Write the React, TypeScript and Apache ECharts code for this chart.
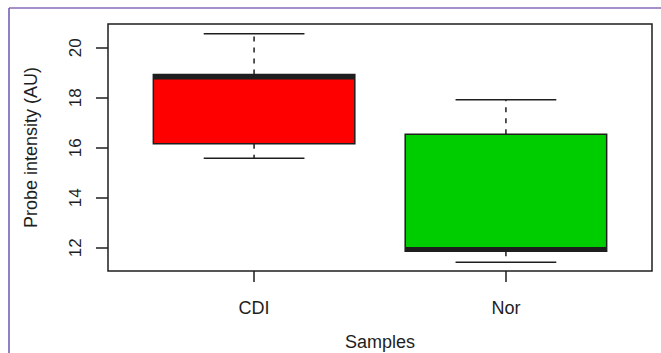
import React, { useEffect, useRef } from "react";
import * as echarts from "echarts";

const categories = ["CDI", "Nor"];
const positions = [1, 2];
const lowerWhisker = [15.58, 11.42];
const q1 = [16.16, 11.86];
const median = [18.82, 11.94];
const q3 = [18.93, 16.54];
const upperWhisker = [20.56, 17.92];
const boxColors = ["#FF0000", "#00CD00"];
const yTicks = [12, 14, 16, 18, 20];

export default function App() {
  const ref = useRef<HTMLDivElement>(null);
  useEffect(() => {
    if (!ref.current) return;
    const chart = echarts.init(ref.current, null, { renderer: "svg" });
    const data = positions.map((p, i) => [p, lowerWhisker[i], q1[i], median[i], q3[i], upperWhisker[i], i]);
    const ink = "#1e1e1e";
    const font = "Liberation Sans";
    chart.setOption({
      animation: false,
      backgroundColor: "#ffffff",
      grid: {
        left: 108,
        top: 24,
        right: 9,
        bottom: 82,
        containLabel: false,
        outerBoundsMode: "none",
        show: true,
        borderColor: ink,
        borderWidth: 1.5,
        backgroundColor: "transparent",
      },
      xAxis: {
        type: "value",
        min: 0.42,
        max: 2.58,
        splitLine: { show: false },
        axisLine: { show: false },
        axisTick: { show: true, customValues: positions, length: 11, inside: false, lineStyle: { color: ink, width: 1.5 } },
        axisLabel: {
          customValues: positions,
          formatter: (v: number) => categories[Math.round(v) - 1] ?? "",
          margin: 28,
          fontFamily: font,
          fontSize: 18,
          color: ink,
        },
        name: "Samples",
        nameLocation: "middle",
        nameGap: 62,
        nameTextStyle: { fontFamily: font, fontSize: 18, color: ink },
      },
      yAxis: {
        type: "value",
        min: 11.07,
        max: 20.95,
        splitLine: { show: false },
        axisLine: { show: false },
        axisTick: { show: true, customValues: yTicks, length: 12, inside: false, lineStyle: { color: ink, width: 1.5 } },
        axisLabel: {
          customValues: yTicks,
          rotate: 90,
          margin: 24,
          fontFamily: font,
          fontSize: 17,
          color: ink,
        },
        name: "Probe intensity (AU)",
        nameLocation: "middle",
        nameGap: 68,
        nameTextStyle: { fontFamily: font, fontSize: 18, color: ink },
      },
      graphic: [
        { type: "line", shape: { x1: 9, y1: 8, x2: 661, y2: 8 }, style: { stroke: "#a690cc", lineWidth: 2 }, z: 100 },
        { type: "line", shape: { x1: 9, y1: 8, x2: 9, y2: 353 }, style: { stroke: "#6d55b3", lineWidth: 1.5 }, z: 100 },
      ],
      series: [
        {
          type: "custom",
          data,
          clip: false,
          renderItem: (params: any, api: any) => {
            const x = api.value(0);
            const lw = api.value(1);
            const a = api.value(2);
            const m = api.value(3);
            const b = api.value(4);
            const hw = api.value(5);
            const idx = api.value(6);
            const half = api.size([0.8, 0])[0] / 2;
            const capHalf = half / 2;
            const pLw = api.coord([x, lw]);
            const pA = api.coord([x, a]);
            const pM = api.coord([x, m]);
            const pB = api.coord([x, b]);
            const pHw = api.coord([x, hw]);
            const cx = pA[0];
            const lineStyle = { stroke: ink, lineWidth: 1.5 };
            const dashStyle = { stroke: ink, lineWidth: 1.5, lineDash: [5, 6] };
            return {
              type: "group",
              children: [
                { type: "line", shape: { x1: cx, y1: pB[1], x2: cx, y2: pHw[1] }, style: dashStyle },
                { type: "line", shape: { x1: cx, y1: pA[1], x2: cx, y2: pLw[1] }, style: dashStyle },
                { type: "line", shape: { x1: cx - capHalf, y1: pHw[1], x2: cx + capHalf, y2: pHw[1] }, style: lineStyle },
                { type: "line", shape: { x1: cx - capHalf, y1: pLw[1], x2: cx + capHalf, y2: pLw[1] }, style: lineStyle },
                {
                  type: "rect",
                  shape: { x: cx - half, y: pB[1], width: half * 2, height: pA[1] - pB[1] },
                  style: { fill: boxColors[idx], stroke: ink, lineWidth: 1.5 },
                },
                { type: "line", shape: { x1: cx - half, y1: pM[1], x2: cx + half, y2: pM[1] }, style: { stroke: ink, lineWidth: 4.5 } },
              ],
            };
          },
        },
      ],
    });
    return () => chart.dispose();
  }, []);
  return <div ref={ref} style={{ width: 661, height: 353, position: "fixed", left: 0, top: 0 }} />;
}
